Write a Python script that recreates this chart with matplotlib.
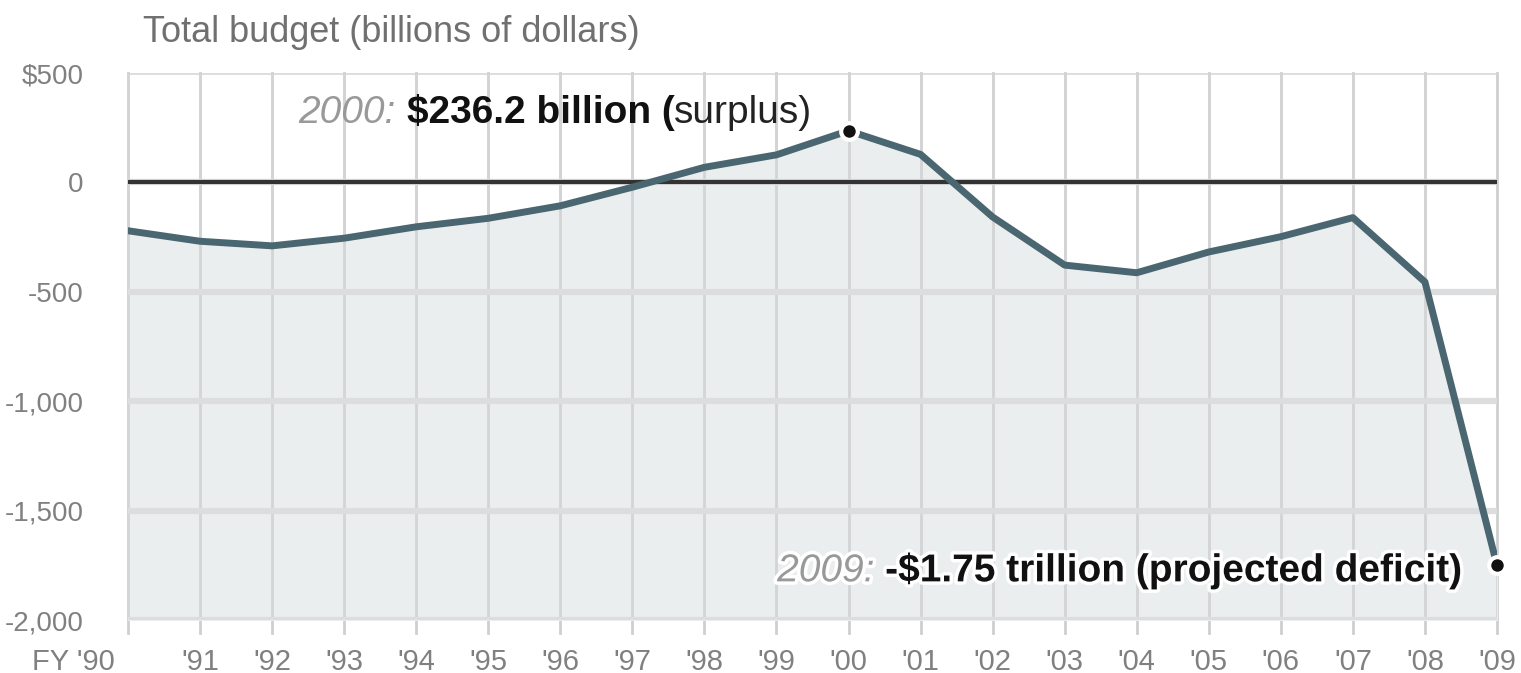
import matplotlib.pyplot as plt
import matplotlib.patheffects as pe
import matplotlib.transforms as mtransforms

# Federal budget surplus/deficit, billions of dollars
years = [1990, 1991, 1992, 1993, 1994, 1995, 1996, 1997, 1998, 1999,
         2000, 2001, 2002, 2003, 2004, 2005, 2006, 2007, 2008, 2009]
budget = [-221, -269, -290, -255, -203, -164, -107, -22, 69, 126,
          236, 128, -158, -378, -413, -318, -248, -161, -455, -1750]
xlabels = ["FY '90", "'91", "'92", "'93", "'94", "'95", "'96", "'97", "'98", "'99",
           "'00", "'01", "'02", "'03", "'04", "'05", "'06", "'07", "'08", "'09"]
yticks = [500, 0, -500, -1000, -1500, -2000]
ylabels = ['$500', '0', '-500', '-1,000', '-1,500', '-2,000']

plt.rcParams['font.family'] = ['Liberation Sans', 'DejaVu Sans']

fig = plt.figure(figsize=(15.21, 6.73), dpi=100)
ax = fig.add_axes([128 / 1521, 53 / 673, 1369 / 1521, 547 / 673])

ax.set_xlim(1990, 2009)
ax.set_ylim(-2000, 500)

# grid
ax.axhline(500, color='#dcdcdc', lw=2, zorder=1)
for x in years:
    ax.plot([x, x], [-2060, 500], color='#cfcfcf', lw=2, zorder=1, clip_on=False)

ax.fill_between(years, budget, -2000, color='#ebeeef', zorder=2)
# gridlines over the fill
for x in years:
    ax.plot([x, x], [-2000, 500], color='#d2d4d6', lw=2, zorder=2.5)
for y in yticks[1:]:
    ax.axhline(y, color='#dcdddf', lw=4.5, zorder=2.5)

ax.axhline(0, color='#333333', lw=3, zorder=3)
ax.plot(years, budget, color='#4a6670', lw=5, zorder=4)

stroke = [pe.withStroke(linewidth=5, foreground='white')]
for i in (10, 19):
    ax.plot(years[i], budget[i], 'o', ms=12, color='#111111', mec='white', mew=3, zorder=5,
            clip_on=False)

for s in ax.spines.values():
    s.set_visible(False)
ax.set_yticks(yticks)
ax.set_yticklabels(ylabels)
ax.set_xticks(years)
ax.set_xticklabels(xlabels)
ax.tick_params(length=0, labelsize=21, labelcolor='#808080')
ax.tick_params(axis='y', labelsize=20, pad=32)
ax.tick_params(axis='x', pad=20)

first = ax.get_xticklabels()[0]
first.set_ha('right')
first.set_transform(first.get_transform() + mtransforms.ScaledTranslation(-13 / 100, 0, fig.dpi_scale_trans))

fig.text(143 / 1521, 1 - 32 / 673, 'Total budget (billions of dollars)', fontsize=26,
         color='#707070', va='center', ha='left')

# annotations
t1 = ax.annotate('surplus)', (years[10], budget[10]), xytext=(-26, 13), textcoords='offset points',
                 ha='right', va='center', fontsize=28, color='#222222', zorder=6)
t1b = ax.annotate('$236.2 billion (', (0, 0), xycoords=t1, xytext=(0, 0), textcoords='offset points',
                  ha='right', va='bottom', fontsize=28, fontweight='bold', color='#111111')
ax.annotate('2000: ', (0, 0), xycoords=t1b, xytext=(0, 0), textcoords='offset points',
            ha='right', va='bottom', fontsize=28, style='italic', color='#999999')

t2 = ax.annotate('-$1.75 trillion (projected deficit)', (years[19], budget[19]), xytext=(-25, -4),
                 textcoords='offset points', ha='right', va='center', fontsize=28,
                 fontweight='bold', color='#111111', path_effects=stroke, zorder=6)
ax.annotate('2009: ', (0, 0), xycoords=t2, xytext=(0, 0), textcoords='offset points',
            ha='right', va='bottom', fontsize=28, style='italic', color='#999999',
            path_effects=stroke, zorder=6)

fig.savefig('out.png', dpi=100)
